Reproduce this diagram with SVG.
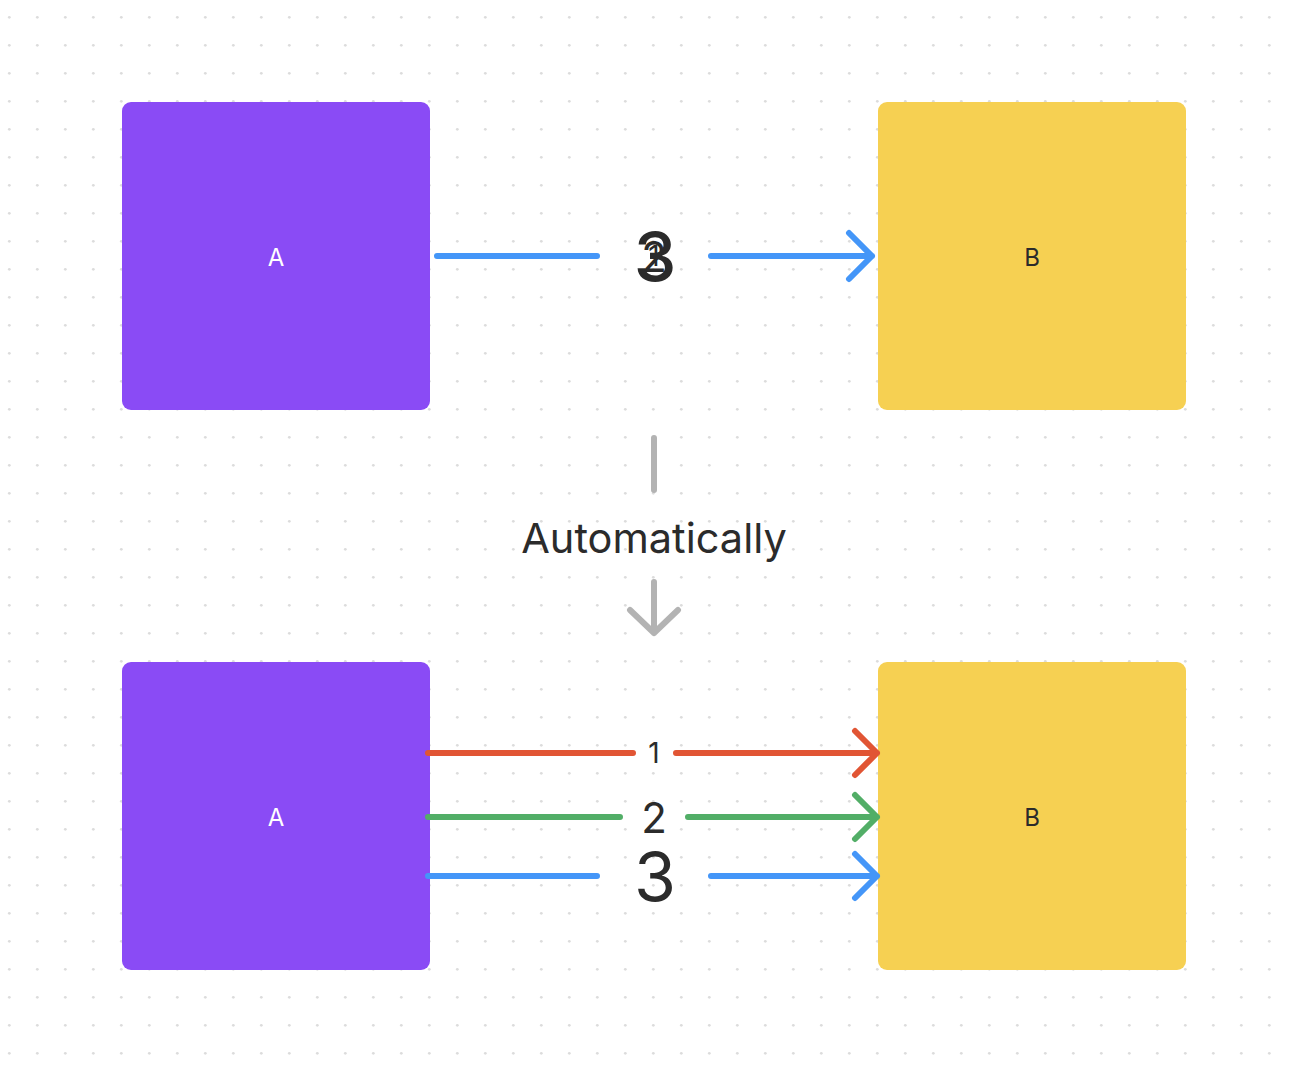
<svg xmlns="http://www.w3.org/2000/svg" width="1294" height="1080" viewBox="0 0 1294 1080">
<style>
.lbl{font-family:Inter,"Liberation Sans",sans-serif;fill:#2b2b2b;text-anchor:middle;dominant-baseline:central}
.line{fill:none;stroke-width:6;stroke-linecap:round;stroke-linejoin:round}
</style>
<defs>
<pattern id="dots" x="0" y="0" width="28" height="28" patternUnits="userSpaceOnUse">
<circle cx="9.3" cy="17.3" r="1.4" fill="#dcdcdc"/>
</pattern>
</defs>
<rect width="1294" height="1080" fill="#ffffff"/>
<rect width="1294" height="1080" fill="url(#dots)"/>
<g id="nodeA1"><rect x="122" y="102" width="308" height="308" rx="9" fill="#8A4BF5"/><text class="lbl" x="276" y="257" font-size="24" style="fill:#fff">A</text></g>
<g id="nodeB1"><rect x="878" y="102" width="308" height="308" rx="9" fill="#F6D052"/><text class="lbl" x="1032" y="257" font-size="24">B</text></g>
<g id="nodeA2"><rect x="122" y="662" width="308" height="308" rx="9" fill="#8A4BF5"/><text class="lbl" x="276" y="817" font-size="24" style="fill:#fff">A</text></g>
<g id="nodeB2"><rect x="878" y="662" width="308" height="308" rx="9" fill="#F6D052"/><text class="lbl" x="1032" y="817" font-size="24">B</text></g>
<g id="connectors">
<path class="line" stroke="#4496F8" d="M437 256H597M711 256H872M849 233L872 256L849 279"/>
<text class="lbl" x="654" y="256" font-size="28">1</text>
<text class="lbl" x="654" y="256" font-size="42">2</text>
<text class="lbl" x="655" y="256" font-size="68" font-weight="500">3</text>
<path class="line" stroke="#E15534" d="M428 753H633M676 753H877M855 731L877 753L855 775"/>
<text class="lbl" x="654" y="753" font-size="28">1</text>
<path class="line" stroke="#52AE67" d="M428 817H620M688 817H877M855 795L877 817L855 839"/>
<text class="lbl" x="654" y="817" font-size="42">2</text>
<path class="line" stroke="#4496F8" d="M428 876H597M711 876H877M855 854L877 876L855 898"/>
<text class="lbl" x="655" y="876" font-size="68">3</text>
<path class="line" stroke="#b3b3b3" d="M654 438V490M654 582V633M630 610L654 633L678 610"/>
<text class="lbl" x="654" y="538" font-size="41.5">Automatically</text>
</g>
</svg>
